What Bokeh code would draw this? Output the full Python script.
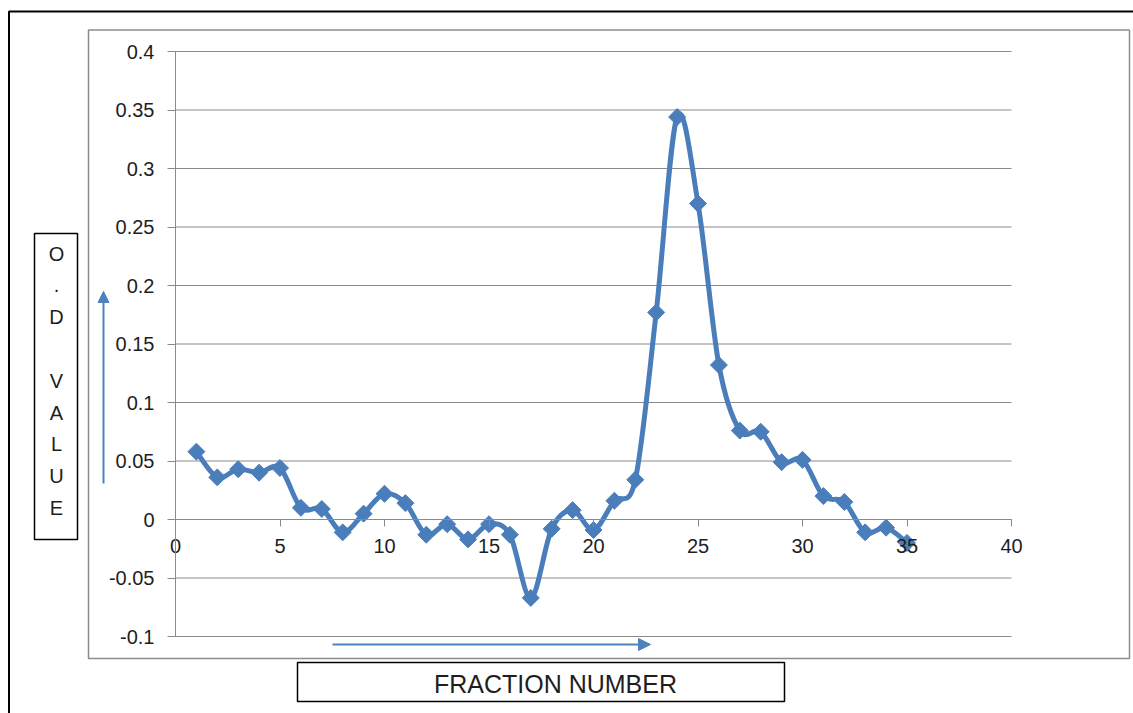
import numpy as np
from bokeh.plotting import figure
from bokeh.models import Range1d, FixedTicker, CustomJSTickFormatter, Arrow, NormalHead, LinearAxis
from bokeh.core.properties import value
from bokeh.embed import file_html
from bokeh.resources import INLINE

# ---------------- data ----------------
fractions = list(range(1, 36))
od_values = [0.058, 0.036, 0.043, 0.040, 0.044, 0.010, 0.009, -0.011, 0.005, 0.022,
             0.014, -0.013, -0.004, -0.017, -0.004, -0.013, -0.067, -0.008, 0.008, -0.009,
             0.016, 0.034, 0.177, 0.344, 0.270, 0.132, 0.076, 0.075, 0.049, 0.051,
             0.020, 0.015, -0.011, -0.007, -0.020]
x_ticks = [0, 5, 10, 15, 20, 25, 30, 35, 40]
y_ticks = [-0.1, -0.05, 0, 0.05, 0.1, 0.15, 0.2, 0.25, 0.3, 0.35, 0.4]
y_title_letters = ["O", ".", "D", "", "V", "A", "L", "U", "E"]
x_title = "FRACTION NUMBER"

# ---------------- layout helpers (picture pixels -> data) ----------------
W, H = 1133, 713
X0_PX, X40_PX = 175.0, 1011.0
Y04_PX, YM01_PX = 51.0, 636.0
XPX = (X40_PX - X0_PX) / 40.0
YPX = (YM01_PX - Y04_PX) / 0.5


def dx(px):
    return (px - X0_PX) / XPX


def dy(py):
    return 0.4 - (py - Y04_PX) / YPX


BLUE = "#4A7EBB"
ARROW = "#4F81BD"
GRID = "#8a8a8a"
FONT = "Liberation Sans"
TXT = "#1e1e1e"

p = figure(width=W, height=H,
           x_range=Range1d(dx(0), dx(W)), y_range=Range1d(dy(H), dy(0)),
           output_backend="svg", toolbar_location=None, min_border=0,
           x_axis_location=None, y_axis_location=None)
p.outline_line_color = None
p.background_fill_color = "white"
p.border_fill_color = "white"
p.grid.visible = False

# outer borders
p.line([dx(8.5), dx(8.5), dx(W + 5)], [dy(H + 5), dy(11), dy(11)], line_color="black", line_width=2)
p.quad(left=[dx(88)], right=[dx(1129)], top=[dy(29.5)], bottom=[dy(658)],
       fill_color=None, line_color="#8c8c8c", line_width=1.5)

# horizontal gridlines
p.segment(x0=[0] * len(y_ticks), y0=y_ticks, x1=[40] * len(y_ticks), y1=y_ticks,
          line_color=GRID, line_width=1)

# axes
fmt = CustomJSTickFormatter(code="return String(Math.round(tick*100)/100)")
yax = LinearAxis(fixed_location=0, bounds=(-0.1, 0.4), ticker=FixedTicker(ticks=y_ticks),
                 formatter=fmt)
yax.axis_line_color = GRID
yax.major_tick_line_color = GRID
yax.major_tick_in = 0
yax.major_tick_out = 8
yax.minor_tick_line_color = None
yax.major_label_standoff = 13
yax.major_label_text_font = FONT
yax.major_label_text_font_size = "20px"
yax.major_label_text_color = TXT
p.add_layout(yax, "left")

xax = LinearAxis(fixed_location=0, bounds=(0, 40), ticker=FixedTicker(ticks=x_ticks),
                 formatter=fmt)
xax.axis_line_color = GRID
xax.major_tick_line_color = GRID
xax.major_tick_in = 0
xax.major_tick_out = 7
xax.minor_tick_line_color = None
xax.major_label_standoff = 12
xax.major_label_text_font = FONT
xax.major_label_text_font_size = "20px"
xax.major_label_text_color = TXT
p.add_layout(xax, "below")

# smoothed series (Catmull-Rom style bezier through the data points)
xs = np.array(fractions, dtype=float)
ys = np.array(od_values, dtype=float)
xp = np.concatenate([[xs[0]], xs, [xs[-1]]])
yp = np.concatenate([[ys[0]], ys, [ys[-1]]])
n = len(xs)
x0 = xp[1:n]; y0 = yp[1:n]
x1 = xp[2:n + 1]; y1 = yp[2:n + 1]
cx0 = x0 + (xp[2:n + 1] - xp[0:n - 1]) / 6.0
cy0 = y0 + (yp[2:n + 1] - yp[0:n - 1]) / 6.0
cx1 = x1 - (xp[3:n + 2] - xp[1:n]) / 6.0
cy1 = y1 - (yp[3:n + 2] - yp[1:n]) / 6.0
p.bezier(x0=x0, y0=y0, x1=x1, y1=y1, cx0=cx0, cy0=cy0, cx1=cx1, cy1=cy1,
         line_color=BLUE, line_width=5)
p.scatter(fractions, od_values, marker="square", size=12, angle=np.pi / 4,
          fill_color=BLUE, line_color=BLUE)

# y title box
p.quad(left=[dx(34)], right=[dx(77)], top=[dy(233)], bottom=[dy(539)],
       fill_color="white", line_color="black", line_width=1.5)
p.text(x=[dx(56)] * len(y_title_letters),
       y=[dy(253 + 31.8 * i) for i in range(len(y_title_letters))],
       text=y_title_letters, text_font=value(FONT), text_font_size="20px",
       text_color=TXT, text_align="center", text_baseline="middle")

# x title box
p.quad(left=[dx(297)], right=[dx(784)], top=[dy(662)], bottom=[dy(701)],
       fill_color="white", line_color="black", line_width=1.5)
p.text(x=[dx(555)], y=[dy(683)], text=[x_title], text_font=value(FONT),
       text_font_size="25px", text_color=TXT, text_align="center", text_baseline="middle")

# arrows
p.add_layout(Arrow(end=NormalHead(size=11, fill_color=ARROW, line_color=ARROW),
                   x_start=dx(103), y_start=dy(483), x_end=dx(103), y_end=dy(291),
                   line_color=ARROW, line_width=2))
p.add_layout(Arrow(end=NormalHead(size=12, fill_color=ARROW, line_color=ARROW),
                   x_start=dx(332), y_start=dy(644), x_end=dx(650), y_end=dy(644),
                   line_color=ARROW, line_width=2))

open("out.html", "w").write(file_html(p, INLINE))
